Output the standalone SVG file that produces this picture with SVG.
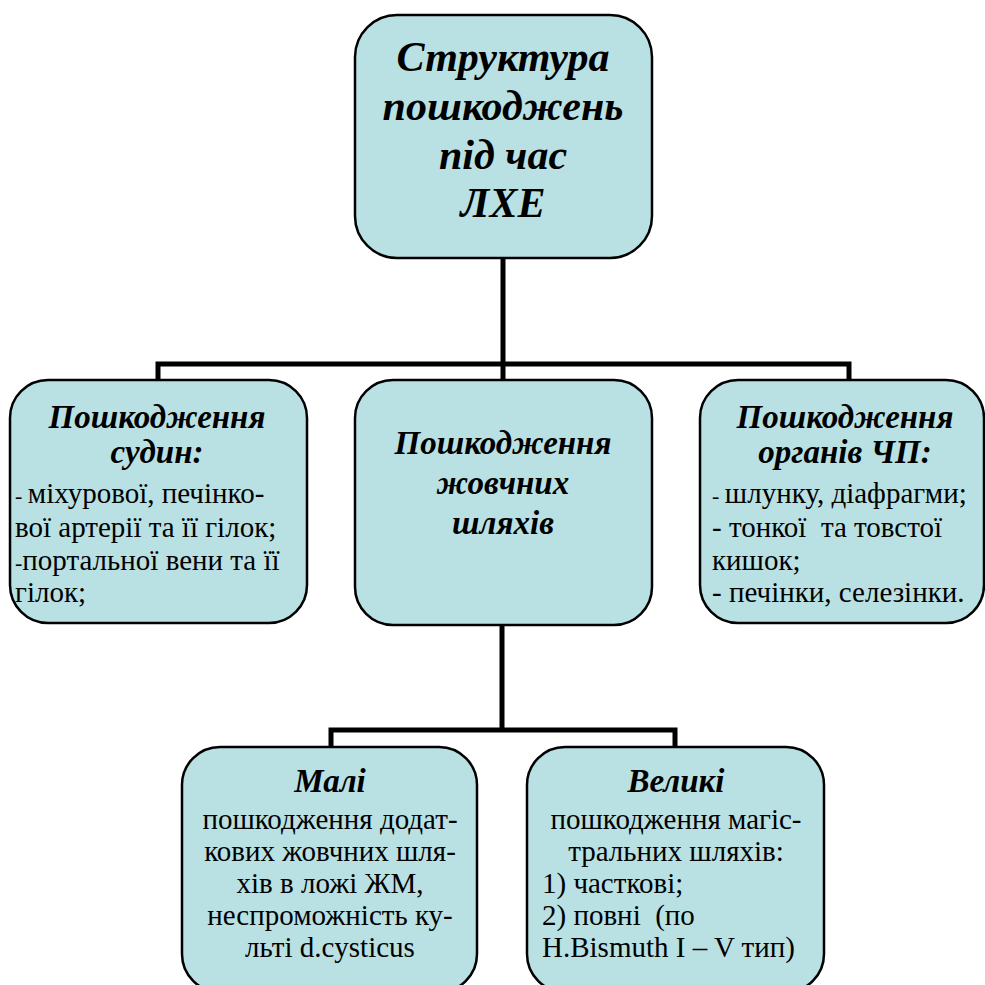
<svg xmlns="http://www.w3.org/2000/svg" width="985" height="985" viewBox="0 0 985 985" font-family="Liberation Serif, Tinos, DejaVu Serif, Noto Serif, serif">
<style>
.box{fill:#B9E0E3;stroke:#000;stroke-width:2.5}
.conn{fill:none;stroke:#000;stroke-width:5}
text{fill:#000;white-space:pre}
.t1{font-size:42px;font-weight:bold;font-style:italic;text-anchor:middle}
.t2{font-size:33px;font-weight:bold;font-style:italic;text-anchor:middle}
.b{font-size:29px}
.c{text-anchor:middle}
</style>
<rect width="985" height="985" fill="#fff"/>
<g id="connectors">
<path class="conn" d="M503 258 V380 M158 380 V364 H849 V380"/>
<path class="conn" d="M502 625 V730 M331 747 V730 H675 V747"/>
</g>
<g id="root">
<rect class="box" x="355" y="15" width="297" height="243" rx="42"/>
<text class="t1" x="503" y="71">Структура</text>
<text class="t1" x="503" y="120">пошкоджень</text>
<text class="t1" x="503" y="169">під час</text>
<text class="t1" x="503" y="217">ЛХЕ</text>
</g>
<g id="vessels">
<rect class="box" x="10" y="380" width="297" height="243" rx="38"/>
<text class="t2" x="157" y="428">Пошкодження</text>
<text class="t2" x="157" y="463">судин:</text>
<text class="b" x="15" y="503"><tspan font-size="22">- </tspan>міхурової, печінко-</text>
<text class="b" x="15" y="537">вої артерії та її гілок;</text>
<text class="b" x="15" y="570"><tspan font-size="22">-</tspan>портальної вени та її</text>
<text class="b" x="15" y="602">гілок;</text>
</g>
<g id="bile">
<rect class="box" x="355" y="380" width="297" height="245" rx="38"/>
<text class="t2" x="503" y="454">Пошкодження</text>
<text class="t2" x="503" y="494">жовчних</text>
<text class="t2" x="503" y="534">шляхів</text>
</g>
<g id="organs">
<rect class="box" x="700" y="380" width="284" height="243" rx="38"/>
<text class="t2" x="845" y="428">Пошкодження</text>
<text class="t2" x="845" y="463">органів ЧП:</text>
<text class="b" x="712" y="503"><tspan font-size="22">- </tspan>шлунку, діафрагми;</text>
<text class="b" x="712" y="537">- тонкої  та товстої</text>
<text class="b" x="712" y="570">кишок;</text>
<text class="b" x="712" y="602">- печінки, селезінки.</text>
</g>
<g id="minor">
<rect class="box" x="182" y="747" width="295" height="245" rx="38"/>
<text class="t2" x="330" y="792">Малі</text>
<text class="b c" x="330" y="829">пошкодження додат-</text>
<text class="b c" x="330" y="861">кових жовчних шля-</text>
<text class="b c" x="330" y="893">хів в ложі ЖМ,</text>
<text class="b c" x="330" y="925">неспроможність ку-</text>
<text class="b c" x="330" y="957">льті d.cysticus</text>
</g>
<g id="major">
<rect class="box" x="527" y="747" width="297" height="245" rx="38"/>
<text class="t2" x="676" y="792">Великі</text>
<text class="b c" x="676" y="829">пошкодження магіс-</text>
<text class="b c" x="676" y="861">тральних шляхів:</text>
<text class="b" x="542" y="893">1) часткові;</text>
<text class="b" x="542" y="925">2) повні  (по</text>
<text class="b" x="542" y="957">H.Bismuth I – V тип)</text>
</g>
</svg>
